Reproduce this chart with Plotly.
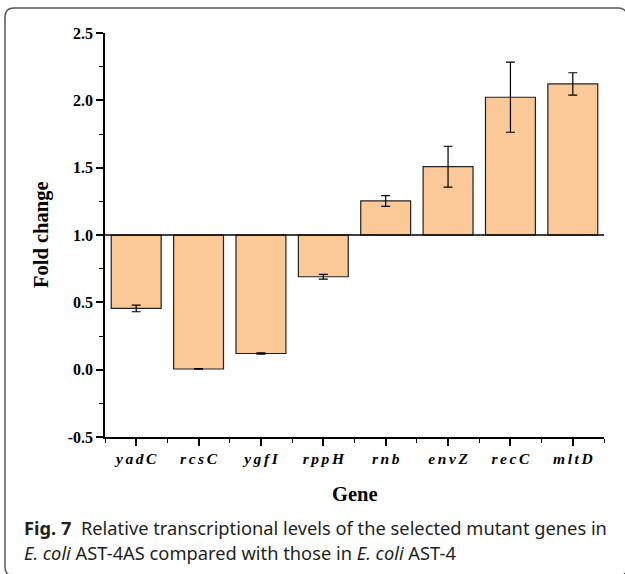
import plotly.graph_objects as go

# Relative expression (fold change vs. AST-4), mean and SD
genes = ["yadC", "rcsC", "ygfI", "rppH", "rnb", "envZ", "recC", "mltD"]
fold_change = [0.455, 0.005, 0.12, 0.69, 1.253, 1.507, 2.023, 2.122]
fold_sd = [0.025, 0.002, 0.005, 0.018, 0.04, 0.152, 0.26, 0.083]
y_ticks = [-0.5, 0.0, 0.5, 1.0, 1.5, 2.0, 2.5]
baseline = 1.0

W, H = 625, 574
ML, MR, MT, MB = 105, 21, 33, 137
PW, PH = W - ML - MR, H - MT - MB


def px_x(px):
    return (px - ML) / PW


def px_y(py):
    return (H - MB - py) / PH


serif = "Liberation Serif, Times New Roman, serif"
sans = "Noto Sans, Open Sans, sans-serif"

xpos = list(range(len(genes)))
# letter-spaced italic gene names on the category axis
gene_labels = ["<i>" + "\u2006".join(g) + "</i>" for g in genes]

fig = go.Figure()
fig.add_trace(go.Bar(
    x=xpos,
    y=[v - baseline for v in fold_change],
    base=baseline,
    width=0.8,
    marker=dict(color="#FBC898", line=dict(color="#222222", width=1.2)),
    error_y=dict(type="data", array=fold_sd, visible=True,
                 color="#000000", thickness=1.2, width=4.5),
    showlegend=False,
))

fig.update_layout(
    width=W, height=H,
    margin=dict(l=ML, r=MR, t=MT, b=MB),
    paper_bgcolor="white", plot_bgcolor="white",
    xaxis=dict(
        range=[-0.5, 7.5], tickvals=xpos, ticktext=gene_labels,
        showline=True, linecolor="black", linewidth=1.5,
        ticks="outside", ticklen=7, tickwidth=1.5, tickcolor="black",
        minor=dict(tickmode="array", tickvals=[i + 0.5 for i in range(-1, len(genes))],
                   ticks="outside", ticklen=4, tickwidth=1.2, tickcolor="black"),
        tickfont=dict(family=serif, size=15.5, color="black", weight="bold"),
        showgrid=False, zeroline=False,
    ),
    yaxis=dict(
        range=[-0.5, 2.5], tickvals=y_ticks,
        ticktext=[f"{v:.1f}" for v in y_ticks],
        showline=True, linecolor="black", linewidth=1.5,
        ticks="outside", ticklen=7, tickwidth=1.5, tickcolor="black",
        minor=dict(dtick=0.25, tick0=0, ticks="outside", ticklen=4,
                   tickwidth=1.2, tickcolor="black"),
        tickfont=dict(family=serif, size=16, color="black", weight="bold"),
        showgrid=False, zeroline=False,
    ),
    shapes=[
        # reference line at fold change = 1
        dict(type="line", xref="paper", yref="y", x0=0, x1=1,
             y0=baseline, y1=baseline, line=dict(color="black", width=1.5),
             layer="above"),
    ],
)

# rounded frame around the figure
x0, x1, y0, y1, r = 5, 627, 8, 576, 9
path = (
    f"M {px_x(x0 + r)},{px_y(y0)} L {px_x(x1 - r)},{px_y(y0)} "
    f"Q {px_x(x1)},{px_y(y0)} {px_x(x1)},{px_y(y0 + r)} "
    f"L {px_x(x1)},{px_y(y1 - r)} Q {px_x(x1)},{px_y(y1)} {px_x(x1 - r)},{px_y(y1)} "
    f"L {px_x(x0 + r)},{px_y(y1)} Q {px_x(x0)},{px_y(y1)} {px_x(x0)},{px_y(y1 - r)} "
    f"L {px_x(x0)},{px_y(y0 + r)} Q {px_x(x0)},{px_y(y0)} {px_x(x0 + r)},{px_y(y0)} Z"
)
fig.add_shape(type="path", xref="paper", yref="paper", path=path,
              line=dict(color="#555555", width=1.5))

fig.add_annotation(text="<b>Fold change</b>", xref="paper", yref="paper",
                   x=px_x(41), y=px_y(235), textangle=-90, showarrow=False,
                   xanchor="center", yanchor="middle",
                   font=dict(family=serif, size=20.5, color="black"))
fig.add_annotation(text="<b>Gene</b>", xref="paper", yref="paper",
                   x=px_x(355), y=px_y(494), showarrow=False,
                   xanchor="center", yanchor="middle",
                   font=dict(family=serif, size=20.5, color="black"))
fig.add_annotation(
    text="<b>Fig. 7</b>  Relative transcriptional levels of the selected mutant genes in",
    xref="paper", yref="paper", x=px_x(22), y=px_y(527), showarrow=False,
    xanchor="left", yanchor="middle", font=dict(family=sans, size=18.3, color="#231F20"))
fig.add_annotation(
    text="<i>E. coli</i> AST-4AS compared with those in <i>E. coli</i> AST-4",
    xref="paper", yref="paper", x=px_x(22), y=px_y(552), showarrow=False,
    xanchor="left", yanchor="middle", font=dict(family=sans, size=18.3, color="#231F20"))

fig.write_html("out.html")
